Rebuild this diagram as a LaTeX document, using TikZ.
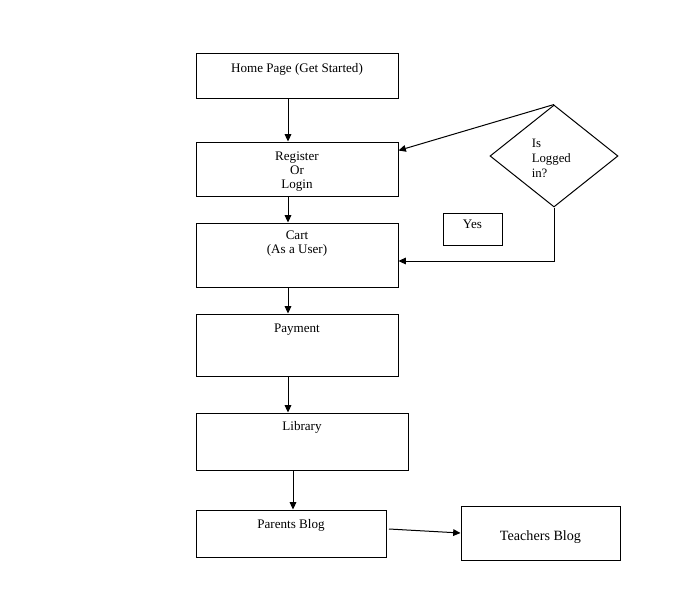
\documentclass[tikz,border=0pt]{standalone}
\usepackage{fontspec}
\setmainfont{Liberation Serif}
\usetikzlibrary{arrows.meta,shapes.geometric}
\begin{document}
\begin{tikzpicture}[x=0.75pt,y=-0.75pt,
  box/.style={draw=black,line width=0.75pt,rectangle,inner sep=0pt},
  txt/.style={inner sep=0pt,font=\fontsize{9.8}{10.5}\selectfont,align=center},
  arr/.style={draw=black,line width=0.75pt,-{Triangle[length=5.5pt,width=5pt]}}]
\useasboundingbox (0,0) rectangle (682,593);
% boxes
\node[box,minimum width=151.5pt,minimum height=33.75pt] (home) at (297,75.5) {};
\node[box,minimum width=151.5pt,minimum height=40.5pt] (reg) at (297,169) {};
\node[box,minimum width=151.5pt,minimum height=48pt] (cart) at (297,255) {};
\node[box,minimum width=151.5pt,minimum height=46.5pt] (pay) at (297,345) {};
\node[box,minimum width=159pt,minimum height=42.75pt] (lib) at (302,441.5) {};
\node[box,minimum width=142.5pt,minimum height=35.25pt] (par) at (291,533.5) {};
\node[box,minimum width=119.25pt,minimum height=40.5pt] (teach) at (540.5,533) {};
\node[box,minimum width=44.25pt,minimum height=24pt] (yes) at (472.5,229) {};
\node[draw=black,line width=0.75pt,diamond,inner sep=0pt,minimum width=96pt,minimum height=76.5pt] (dia) at (554,156) {};
% texts
\node[txt,anchor=base] (homet) at (297,72) {Home Page (Get Started)};
\node[txt,anchor=north] (regt) at (297,151.3) {Register\\Or\\Login};
\node[txt,anchor=north] (cartt) at (297,230.3) {Cart\\(As a User)};
\node[txt,anchor=base] (payt) at (297,332) {Payment};
\node[txt,anchor=base] (libt) at (302,430) {Library};
\node[txt,anchor=base] (part) at (291,528) {Parents Blog};
\node[txt,anchor=base,font=\fontsize{10.6}{12}\selectfont] (teacht) at (540.5,540) {Teachers Blog};
\node[txt,anchor=base] (yest) at (472.5,228) {Yes};
\begin{scope}
\clip (500,120) rectangle (600,176);
\node[inner sep=0pt,anchor=north west,align=left,font=\fontsize{9.6}{11.25}\selectfont] (diat) at (531.5,139.3) {Is\\Logged\\in?};
\end{scope}
% connectors
\draw[arr] ([xshift=-6.75pt]home.south) -- ([xshift=-6.75pt]reg.north);
\draw[arr] ([xshift=-6.75pt]reg.south) -- ([xshift=-6.75pt]cart.north);
\draw[arr] ([xshift=-6.75pt]cart.south) -- ([xshift=-6.75pt]pay.north);
\draw[arr] ([xshift=-6.75pt]pay.south) -- ([xshift=-10.5pt]lib.north);
\draw[arr] ([xshift=-6.75pt]lib.south) -- ([xshift=1.5pt]par.north);
\coordinate (pbout) at (389,529);
\draw[arr] (pbout) -- (teach.west);
\draw[arr] (dia.north) -- ([yshift=-6.75pt]reg.north east);
\draw[arr] (dia.south) |- ([yshift=-4.5pt]cart.east);
\end{tikzpicture}
\end{document}
